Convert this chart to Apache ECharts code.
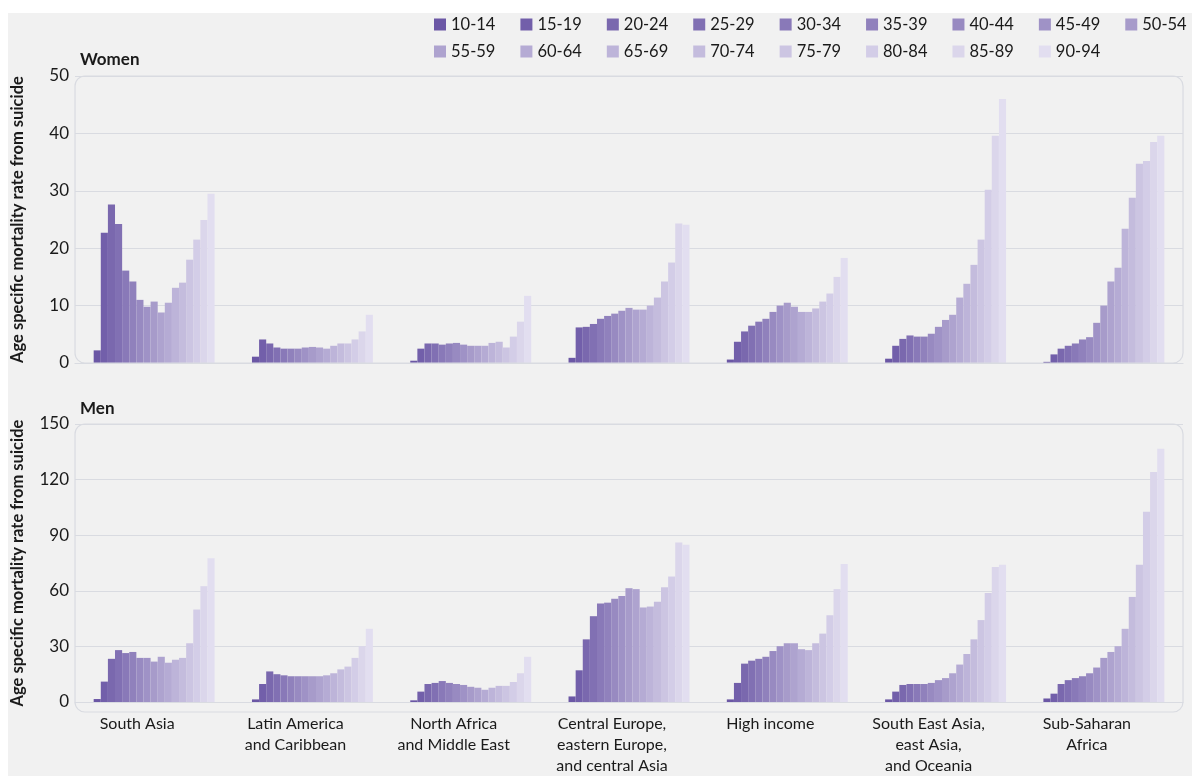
<!DOCTYPE html>
<html>
<head>
<meta charset="utf-8">
<script src="https://cdn.jsdelivr.net/npm/echarts@6/dist/echarts.min.js"></script>
<style>
  html, body { margin: 0; padding: 0; background: #ffffff; }
  #bg { position: absolute; left: 8px; top: 13px; right: 0; bottom: 0; background: #f1f1f1; }
  #chart { position: absolute; left: 0; top: 0; width: 1192px; height: 776px; }
</style>
</head>
<body>
<div id="bg"></div>
<div id="chart"></div>
<script>
// ---- data ----
const regions = ['South Asia', 'Latin America\nand Caribbean', 'North Africa\nand Middle East',
  'Central Europe,\neastern Europe,\nand central Asia', 'High income',
  'South East Asia,\neast Asia,\nand Oceania', 'Sub-Saharan\nAfrica'];
const ageGroups = ['10-14','15-19','20-24','25-29','30-34','35-39','40-44','45-49','50-54',
  '55-59','60-64','65-69','70-74','75-79','80-84','85-89','90-94'];

// Women: age specific rates per region (ages 10-14 ... 90-94)
const womenSouthAsia    = [2.2, 22.7, 27.6, 24.2, 16.1, 14.2, 11.0, 9.8, 10.7, 8.8, 10.5, 13.1, 14.0, 18.0, 21.5, 24.9, 29.5];
const womenLatinAmerica = [1.1, 4.1, 3.4, 2.7, 2.5, 2.5, 2.5, 2.7, 2.8, 2.7, 2.5, 3.0, 3.4, 3.4, 4.1, 5.5, 8.4];
const womenNorthAfrica  = [0.4, 2.5, 3.4, 3.4, 3.2, 3.4, 3.5, 3.2, 3.0, 3.0, 3.0, 3.5, 3.7, 2.7, 4.6, 7.2, 11.7];
const womenCentralEur   = [0.9, 6.2, 6.3, 6.8, 7.7, 8.2, 8.6, 9.1, 9.6, 9.3, 9.3, 10.0, 11.4, 14.2, 17.5, 24.3, 24.1];
const womenHighIncome   = [0.6, 3.7, 5.5, 6.5, 7.2, 7.7, 8.9, 10.0, 10.5, 9.8, 8.9, 8.9, 9.5, 10.7, 12.1, 15.0, 18.3];
const womenSEAsia       = [0.75, 3.0, 4.2, 4.8, 4.6, 4.6, 5.1, 6.3, 7.5, 8.4, 11.4, 13.8, 17.1, 21.5, 30.2, 39.6, 46.0];
const womenSubSaharan   = [0.2, 1.5, 2.5, 3.0, 3.4, 4.1, 4.5, 7.0, 10.0, 14.2, 16.6, 23.4, 28.8, 34.7, 35.2, 38.5, 39.6];

// Men
const menSouthAsia    = [1.6, 11.0, 23.3, 28.0, 26.4, 27.0, 23.8, 23.8, 21.8, 24.4, 21.2, 22.8, 23.8, 31.7, 49.9, 62.5, 77.6];
const menLatinAmerica = [1.4, 9.7, 16.5, 15.0, 14.4, 13.9, 13.9, 13.9, 13.9, 13.9, 14.4, 15.5, 17.6, 19.1, 23.8, 30.1, 39.5];
const menNorthAfrica  = [0.9, 5.6, 9.7, 10.3, 11.3, 10.3, 9.7, 9.2, 8.2, 7.7, 6.6, 7.7, 8.7, 8.7, 10.8, 15.5, 24.4];
const menCentralEur   = [3.0, 17.1, 33.8, 46.3, 53.1, 53.6, 55.7, 57.2, 61.4, 60.9, 51.0, 51.5, 54.1, 61.9, 67.7, 86.0, 84.9];
const menHighIncome   = [1.4, 10.3, 20.7, 22.3, 23.3, 24.4, 27.5, 30.1, 31.7, 31.7, 28.5, 28.0, 31.7, 36.9, 46.8, 60.9, 74.5];
const menSEAsia       = [1.4, 5.6, 9.2, 9.7, 9.7, 9.7, 10.3, 11.8, 12.9, 15.5, 20.2, 25.9, 33.8, 44.2, 58.8, 72.9, 74.0];
const menSubSaharan   = [1.9, 4.5, 9.7, 11.8, 12.9, 13.9, 15.5, 18.6, 23.8, 27.0, 30.1, 39.5, 56.7, 74.0, 102.7, 124.1, 136.6];

const womenTicks = [0, 10, 20, 30, 40, 50];
const menTicks = [0, 30, 60, 90, 120, 150];

// ---- styling ----
const colors = ['#6b57a5','#725faa','#7a68ae','#8170b3','#8979b8','#9081bc','#988ac1','#9f92c6','#a79bca',
  '#aea3cf','#b5abd4','#bdb4d9','#c4bcdd','#ccc5e2','#d3cde7','#dbd6eb','#e2def0'];
const FONT = 'Lato';
const TXT = '#1a1a1a';
const GRID_LINE = '#d9dbe1';

const womenRows = [womenSouthAsia, womenLatinAmerica, womenNorthAfrica, womenCentralEur, womenHighIncome, womenSEAsia, womenSubSaharan];
const menRows = [menSouthAsia, menLatinAmerica, menNorthAfrica, menCentralEur, menHighIncome, menSEAsia, menSubSaharan];

const G = { left: 75, right: 9, width: 1108 };
const G1 = { top: 76, height: 287 };
const G2 = { top: 424, height: 288 };

const series = [];
[womenRows, menRows].forEach((rows, p) => {
  ageGroups.forEach((ag, i) => {
    series.push({
      name: ag, type: 'bar', xAxisIndex: p, yAxisIndex: p,
      data: rows.map(r => r[i]),
      itemStyle: { color: colors[i] },
      barGap: 0, barCategoryGap: '23.6%',
      emphasis: { disabled: true }
    });
  });
});

function yAxis(p, ticks) {
  return {
    type: 'value', gridIndex: p, min: ticks[0], max: ticks[ticks.length - 1],
    interval: ticks[1] - ticks[0],
    name: 'Age specific mortality rate from suicide',
    nameLocation: 'middle', nameGap: 49,
    nameTextStyle: { fontFamily: FONT, fontWeight: 'bold', fontSize: 16.5, color: TXT },
    axisLine: { show: false }, axisTick: { show: false },
    axisLabel: { fontFamily: FONT, fontSize: 17, color: TXT, margin: 6 },
    splitLine: { lineStyle: { color: GRID_LINE, width: 1.2 } }
  };
}
function xAxis(p, showLabels) {
  return {
    type: 'category', gridIndex: p, data: regions,
    axisLine: { show: true, lineStyle: { color: GRID_LINE, width: 1.2 } },
    axisTick: { show: false },
    axisLabel: showLabels ? { show: true, fontFamily: FONT, fontSize: 16, color: TXT, lineHeight: 21,
      margin: 11, interval: 0, padding: [0, 34, 0, 0] } : { show: false }
  };
}

const legendCommon = {
  orient: 'horizontal', icon: 'rect', itemWidth: 12, itemHeight: 12, itemGap: 25,
  width: 760,
  textStyle: { fontFamily: FONT, fontSize: 16.5, color: TXT },
  selectedMode: false
};

const chart = echarts.init(document.getElementById('chart'), null, { renderer: 'canvas' });
chart.setOption({
  backgroundColor: 'transparent',
  animation: false,
  title: [
    { text: 'Women', left: G.left, top: 46, textStyle: { fontFamily: FONT, fontWeight: 'bold', fontSize: 17, color: TXT } },
    { text: 'Men', left: G.left, top: 395, textStyle: { fontFamily: FONT, fontWeight: 'bold', fontSize: 17, color: TXT } }
  ],
  legend: [
    Object.assign({}, legendCommon, { left: 429, top: 11, data: ageGroups.slice(0, 9) }),
    Object.assign({}, legendCommon, { left: 429, top: 38, data: ageGroups.slice(9) })
  ],
  grid: [
    { left: G.left, width: G.width, top: G1.top, height: G1.height },
    { left: G.left, width: G.width, top: G2.top, height: G2.height }
  ],
  xAxis: [xAxis(0, false), xAxis(1, true)],
  yAxis: [yAxis(0, womenTicks), yAxis(1, menTicks)],
  graphic: [
    { type: 'rect', z: 100, silent: true, shape: { x: G.left, y: G1.top, width: G.width, height: G1.height, r: 10 },
      style: { fill: 'none', stroke: GRID_LINE, lineWidth: 1.2 } },
    { type: 'rect', z: 100, silent: true, shape: { x: G.left, y: G2.top, width: G.width, height: G2.height, r: 10 },
      style: { fill: 'none', stroke: GRID_LINE, lineWidth: 1.2 } }
  ],
  series: series
});
</script>
</body>
</html>
